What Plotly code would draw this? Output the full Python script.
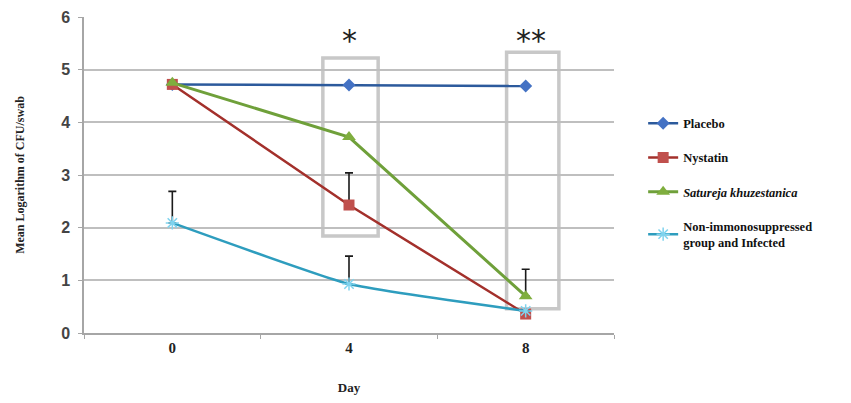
import plotly.graph_objects as go

days = ["0", "4", "8"]
placebo = [4.72, 4.71, 4.69]
nystatin = [4.72, 2.43, 0.36]
nystatin_err = [0, 0.61, 0]
satureja = [4.75, 3.72, 0.70]
satureja_err = [0, 0, 0.51]
nonimmuno = [2.09, 0.93, 0.42]
nonimmuno_err = [0.60, 0.53, 0]
y_ticks = [0, 1, 2, 3, 4, 5, 6]

SERIF = "Liberation Serif, Times New Roman, serif"
SANS = "Liberation Sans, Arial, sans-serif"

def err(arr):
    return dict(type="data", symmetric=False, array=arr, arrayminus=[0] * len(arr),
                color="#1a1a1a", thickness=1.6, width=4, visible=True)

fig = go.Figure()
fig.add_trace(go.Scatter(x=days, y=placebo, name="<b>Placebo</b>", mode="lines+markers",
                         line=dict(color="#2C5A9C", width=2.5),
                         marker=dict(symbol="diamond", size=10, color="#4472C4"),
                         legendgroup="a"))
fig.add_trace(go.Scatter(x=days, y=nystatin, name="<b>Nystatin</b>", mode="lines+markers",
                         line=dict(color="#A3302B", width=2.5),
                         marker=dict(symbol="square", size=11, color="#C0504D"),
                         error_y=err(nystatin_err), legendgroup="b"))
fig.add_trace(go.Scatter(x=days, y=satureja, name="<b><i>Satureja khuzestanica</i></b>", mode="lines+markers",
                         line=dict(color="#6FA03A", width=3),
                         marker=dict(symbol="triangle-up", size=12, color="#7FAE3E"),
                         error_y=err(satureja_err), legendgroup="c"))
fig.add_trace(go.Scatter(x=days, y=nonimmuno, name="<b>Non-immonosuppressed<br>group and Infected</b>",
                         mode="lines+markers",
                         line=dict(color="#2E9DBE", width=2.5, shape="spline", smoothing=0.4),
                         marker=dict(symbol="asterisk-open", size=11, color="#7FD3EE", line=dict(width=1.5, color="#7FD3EE")),
                         error_y=err(nonimmuno_err), legendgroup="d"))

box = dict(type="rect", xref="x", yref="y", line=dict(color="#C8C8C8", width=3.5),
           fillcolor="rgba(0,0,0,0)", layer="below")
fig.add_shape(**box, x0=0.852, x1=1.165, y0=1.84, y1=5.22)
fig.add_shape(**box, x0=1.892, x1=2.188, y0=0.46, y1=5.33)

fig.add_annotation(x=1, y=5.55, xref="x", yref="y", text="*", showarrow=False,
                   font=dict(family="DejaVu Sans", size=30, color="#222"), yanchor="middle")
fig.add_annotation(x=2.03, y=5.55, xref="x", yref="y", text="**", showarrow=False,
                   font=dict(family="DejaVu Sans", size=30, color="#222"), yanchor="middle")

fig.update_layout(
    width=843, height=395,
    margin=dict(l=76, r=237, t=9, b=70, autoexpand=False),
    paper_bgcolor="white", plot_bgcolor="white",
    showlegend=True,
    legend=dict(x=1.055, y=0.71, xanchor="left", yanchor="top",
                font=dict(family=SERIF, size=12.5, color="#111"),
                tracegroupgap=15, bgcolor="rgba(0,0,0,0)"),
    xaxis=dict(type="category", categoryorder="array", categoryarray=days,
               showgrid=False, showline=True, linecolor="#A6A6A6", linewidth=1.5,
               ticks="outside", tickson="boundaries", ticklen=4, tickcolor="#A6A6A6",
               tickfont=dict(family=SERIF, size=15, color="#222", weight="bold"),
               title=dict(text="<b>Day</b>", font=dict(family=SERIF, size=13, color="#222"), standoff=28),
               range=[-0.5, 2.5], automargin=False),
    yaxis=dict(range=[0, 6], tickvals=y_ticks, showgrid=True, gridcolor="#BFBFBF", gridwidth=1.5,
               showline=True, linecolor="#A6A6A6", linewidth=1.5, ticks="outside", ticklen=4,
               tickcolor="#A6A6A6", zeroline=False, ticklabelstandoff=5, ticklabeloverflow="allow",
               automargin=False,
               tickfont=dict(family=SANS, size=16, color="#444", weight="bold"),
               title=dict(text="<b>Mean Logarithm of CFU/swab</b>", font=dict(family=SERIF, size=12, color="#222"),
                          standoff=34)),
)
fig.write_html("out.html")
